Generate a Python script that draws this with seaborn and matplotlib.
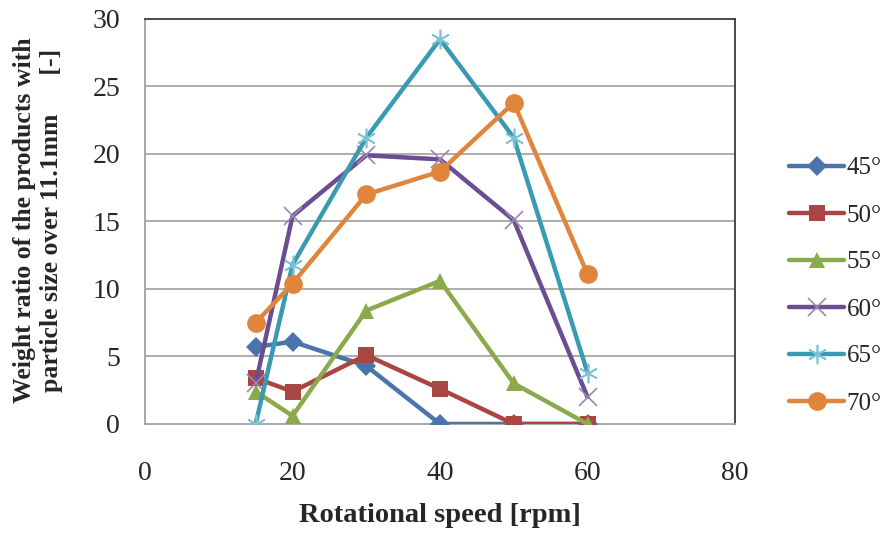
import matplotlib
matplotlib.use("Agg")
import matplotlib.pyplot as plt
import seaborn as sns
import pandas as pd
from matplotlib.lines import Line2D

# Rotational speed [rpm]
speed = [15, 20, 30, 40, 50, 60]

# Weight ratio of coarse products [-] for each inclination angle
angle_45 = [5.7, 6.1, 4.3, 0.0, 0.0, 0.0]
angle_50 = [3.4, 2.4, 5.1, 2.6, 0.0, 0.0]
angle_55 = [2.4, 0.6, 8.4, 10.6, 3.0, 0.0]
angle_60 = [3.0, 15.4, 19.9, 19.6, 15.1, 2.0]
angle_65 = [0.0, 11.8, 21.2, 28.5, 21.2, 3.8]
angle_70 = [7.5, 10.4, 17.0, 18.7, 23.8, 11.1]

labels = ["45°", "50°", "55°", "60°", "65°", "70°"]
series = [angle_45, angle_50, angle_55, angle_60, angle_65, angle_70]

x_ticks = [0, 20, 40, 60, 80]
y_ticks = [0, 5, 10, 15, 20, 25, 30]

colors = ["#4A74AA", "#A94543", "#8BAA4B", "#6B4E92", "#3A9AB2", "#E0863C"]
marker_light = ["#4A74AA", "#A94543", "#8BAA4B", "#9A86B8", "#7CC3D6", "#E0863C"]
markers = ["D", "s", "^", "x", (6, 2, 0), "o"]
sizes = [10, 11.5, 12, 12.5, 14, 13.5]

frames = []
for lab, vals in zip(labels, series):
    frames.append(pd.DataFrame({"speed": speed, "ratio": vals, "angle": lab}))
df = pd.concat(frames, ignore_index=True)

sns.set_style("white")
plt.rcParams["font.family"] = ["Liberation Serif", "DejaVu Serif"]

fig = plt.figure(figsize=(8.92, 5.36), dpi=100)
ax = fig.add_axes([0.1626, 0.209, 0.6614, 0.7556])

handles = []
for lab, col, mcol, mk, ms in zip(labels, colors, marker_light, markers, sizes):
    sub = df[df["angle"] == lab]
    thin = mk == "x" or isinstance(mk, tuple)
    sns.lineplot(data=sub, x="speed", y="ratio", ax=ax, color=col,
                 linewidth=3.2, marker=mk, markersize=ms,
                 markerfacecolor=mcol, markeredgecolor=mcol,
                 markeredgewidth=1.2 if thin else 0, legend=False,
                 zorder=3)
    handles.append(Line2D([0], [0], color=col, linewidth=3.2, marker=mk,
                          markersize=ms, markerfacecolor=mcol,
                          markeredgecolor=mcol,
                          markeredgewidth=1.2 if thin else 0,
                          solid_capstyle="round"))

ax.set_xlim(0, 80)
ax.set_ylim(0, 30)
ax.set_xticks(x_ticks)
ax.set_yticks(y_ticks)
ax.set_xticklabels([str(v) for v in x_ticks], fontsize=20)
ax.set_yticklabels([str(v) for v in y_ticks], fontsize=20)
ax.tick_params(axis="x", length=0, pad=27)
ax.tick_params(axis="y", length=0, pad=18)

ax.grid(False)
for yv in y_ticks[1:-1]:
    ax.axhline(yv, color="#A6A6A6", linewidth=1.3, zorder=1)

for side in ["left", "bottom"]:
    ax.spines[side].set_color("#A0A0A0")
    ax.spines[side].set_linewidth(1.3)
for side in ["top", "right"]:
    ax.spines[side].set_color("#3A3A3A")
    ax.spines[side].set_linewidth(1.3)

ax.set_xlabel("")
ax.set_ylabel("")
fig.text(440 / 892, 1 - 516 / 536, "Rotational speed [rpm]", fontsize=20.5,
         fontweight="bold", ha="center", va="center")
fig.text(38 / 892, 1 - 220 / 536,
         "Weight ratio of the products with\nparticle size over 11.1mm      [-]",
         fontsize=18.5, fontweight="bold", rotation=90, ha="center",
         va="center", linespacing=1.2)

fig.legend(handles, labels, loc="upper left",
           bbox_to_anchor=(779 / 892, 1 - 147 / 536), frameon=False,
           fontsize=18, handlelength=2.2, handletextpad=0.1,
           labelspacing=0.98, borderaxespad=0)

fig.savefig("out.png", dpi=100)
